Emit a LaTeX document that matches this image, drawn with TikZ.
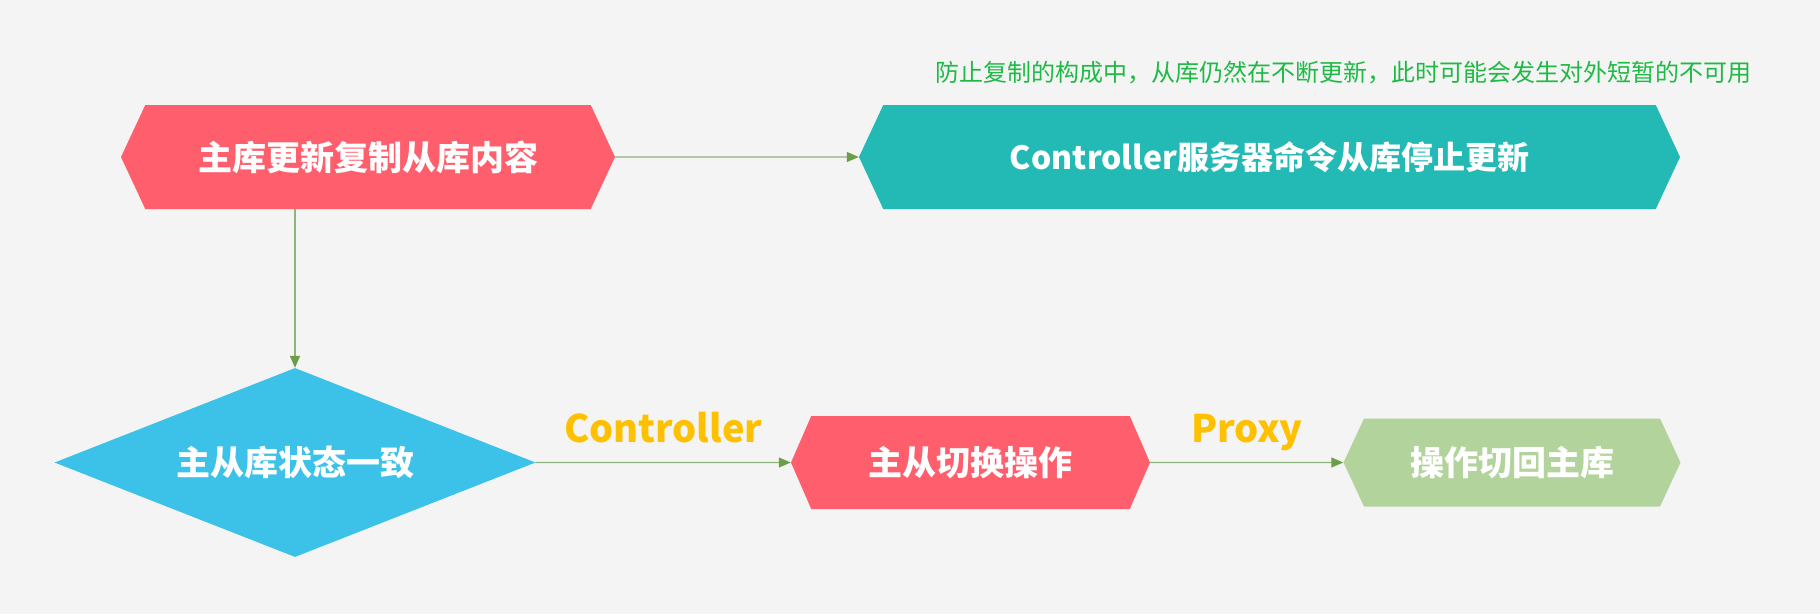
\documentclass[tikz,border=0pt]{standalone}
\usepackage{fontspec}
\setmainfont{Noto Sans CJK SC}
\usetikzlibrary{shapes.geometric,shapes.symbols,arrows.meta}

\definecolor{bgGray}{HTML}{F4F4F4}
\definecolor{hexRed}{HTML}{FF5F6D}
\definecolor{hexTeal}{HTML}{23BAB5}
\definecolor{diaBlue}{HTML}{3CC2E8}
\definecolor{hexGreen}{HTML}{B2D39B}
\definecolor{lineGreen}{HTML}{8DB47A}
\definecolor{tipGreen}{HTML}{6C9E48}
\definecolor{labelGold}{HTML}{FFC000}
\definecolor{noteGreen}{HTML}{1FBA45}

\begin{document}
\begin{tikzpicture}[x=1pt, y=-1pt]
    % Styles
    \tikzstyle{hexbox} = [signal, signal to=west and east, signal pointer angle=130, inner sep=0pt, text=white, font=\fontsize{34}{40}\selectfont\bfseries]
    \tikzstyle{decision} = [diamond, aspect=2.55, inner sep=0pt, fill=diaBlue, text=white, font=\fontsize{34}{40}\selectfont\bfseries]
    \tikzstyle{flow} = [draw=lineGreen, line width=1.2pt, -{Triangle[length=12pt, width=10pt, color=tipGreen]}]
    \tikzstyle{tag} = [midway, anchor=base, yshift=20pt, text=labelGold, font=\fontsize{38}{44}\selectfont\bfseries]
    \tikzstyle{note} = [text=noteGreen, font=\fontsize{24}{28}\selectfont]

    % Background
    \fill[bgGray] (0,0) rectangle (1820,614);
    \useasboundingbox (0,0) rectangle (1820,614);

    % Nodes
    \node[hexbox, fill=hexRed, minimum width=494pt, minimum height=104pt] (copy) at (368,157) {主库更新复制从库内容};
    \node[hexbox, fill=hexTeal, minimum width=821pt, minimum height=104pt, font=\fontsize{32}{38}\selectfont\bfseries] (stop) at (1269.5,157) {Controller服务器命令从库停止更新};
    \node[note] (warn) at (1343,73) {防止复制的构成中，从库仍然在不断更新，此时可能会发生对外短暂的不可用};

    \node[decision, minimum width=481pt, minimum height=189pt] (sync) at (295,462.5) {主从库状态一致};
    \node[hexbox, fill=hexRed, minimum width=359pt, minimum height=93pt, signal pointer angle=133] (switch) at (970.5,462.5) {主从切换操作};
    \node[hexbox, fill=hexGreen, minimum width=337pt, minimum height=88pt] (back) at (1512,462.5) {操作切回主库};

    % Arrows
    \draw[flow] (copy) -- (stop);
    \draw[flow] (sync.north |- copy.south) -- (sync.north);
    \draw[flow] (sync) -- node[tag] {Controller} (switch);
    \draw[flow] (switch) -- node[tag] {Proxy} (back);

\end{tikzpicture}
\end{document}
